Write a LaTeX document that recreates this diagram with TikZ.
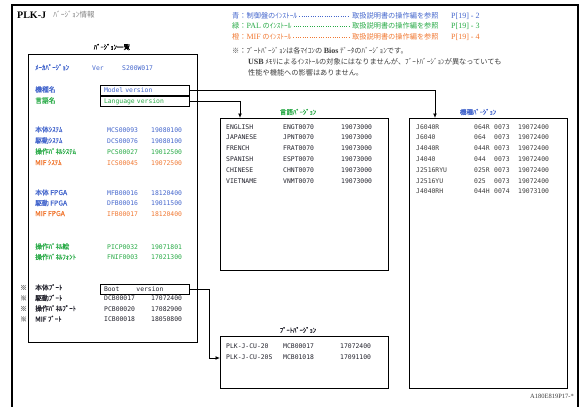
\documentclass[tikz,border=0pt]{standalone}
\usepackage{fontspec}
\setmainfont{Liberation Serif}
\newfontfamily\jp{Noto Sans CJK JP}
\newfontfamily\jpb{Noto Sans CJK JP}[FakeBold=0.6]
\newfontfamily\mono{DejaVu Sans Mono}
\usetikzlibrary{arrows.meta,calc}
\definecolor{cblue}{RGB}{68,102,204}
\definecolor{cgreen}{RGB}{40,170,70}
\definecolor{corange}{RGB}{240,120,50}
\definecolor{cgray}{RGB}{60,60,60}
\definecolor{cdark}{RGB}{35,35,45}
\begin{document}
\begin{tikzpicture}[x=1pt,y=-1pt,
  lbl/.style={font=\jpb\fontsize{6.8}{7}\selectfont, inner sep=0pt, anchor=west, text height=5pt, text depth=1pt},
  cod/.style={font=\mono\fontsize{6.4}{7}\selectfont, inner sep=0pt, anchor=west, text height=5pt, text depth=1pt},
  note/.style={font=\jp\fontsize{7.2}{8}\selectfont, inner sep=0pt, anchor=west, text height=6pt, text depth=1.5pt},
  srf/.style={font=\fontsize{8}{9}\selectfont, inner sep=0pt, anchor=west, text height=6pt, text depth=1.5pt},
  frame/.style={draw, line width=1.4pt, anchor=north west, inner sep=0pt},
  vbox/.style={draw, line width=1pt, anchor=north west, minimum width=89pt, minimum height=10pt,
    text width=82pt, inner xsep=3.5pt, inner ysep=0pt, align=left, font=\mono\fontsize{6.4}{7}\selectfont},
  conn/.style={line width=1pt, -{Latex[length=4.5pt,width=4pt]}},
  leader/.style={line width=0.7pt, dash pattern=on 0.7pt off 1.6pt, shorten <=2pt, shorten >=3pt},
  ttl/.style={font=\jpb\fontsize{6.6}{7}\selectfont, inner sep=0pt}
]
\useasboundingbox (0,0) rectangle (582,407);
% outer frame
\draw[line width=1.1pt] (12,407) -- (12,5) -- (578,5) -- (578,407);
% title
\node[anchor=west, inner sep=0pt, font=\bfseries\fontsize{10}{12}\selectfont] (title) at (17,15) {PLK-J};
\node[anchor=west, inner sep=0pt, font=\jp\fontsize{7.5}{8}\selectfont, text=gray] (title2) at ($(title.east)+(7,0)$) {ﾊﾞｰｼﾞｮﾝ情報};
% notes
\node[note,text=cblue] (n1) at (232,16) {青：制御盤のｲﾝｽﾄｰﾙ};
\node[note,text=cgreen] (n2) at (232,26.5) {緑：{\rmfamily\fontsize{8}{9}\selectfont PAL} のｲﾝｽﾄｰﾙ};
\node[note,text=corange] (n3) at (232,37) {橙：{\rmfamily\fontsize{8}{9}\selectfont MIF} のｲﾝｽﾄｰﾙ};
\node[note,text=cblue] (r1) at (352,16) {取扱説明書の操作編を参照};
\node[note,text=cgreen] (r2) at (352,26.5) {取扱説明書の操作編を参照};
\node[note,text=corange] (r3) at (352,37) {取扱説明書の操作編を参照};
\node[srf,text=cblue] (p1) at (451,16) {P[19] - 2};
\node[srf,text=cgreen] (p2) at (451,26.5) {P[19] - 3};
\node[srf,text=corange] (p3) at (451,37) {P[19] - 4};
\draw[leader,cblue] (n1.east) -- (r1.west);
\draw[leader,cgreen] (n2.east) -- (r2.west);
\draw[leader,corange] (n3.east) -- (r3.west);
\node[note,text=cgray] (s1) at (232,51) {※：ﾌﾞｰﾄﾊﾞｰｼﾞｮﾝは各ﾏｲｺﾝの {\rmfamily\bfseries\fontsize{8}{9}\selectfont Bios} ﾃﾞｰﾀのﾊﾞｰｼﾞｮﾝです。};
\node[note,text=cgray] (s2) at (248,62) {{\rmfamily\bfseries\fontsize{8}{9}\selectfont USB} ﾒﾓﾘによるｲﾝｽﾄｰﾙの対象にはなりませんが、ﾌﾞｰﾄﾊﾞｰｼﾞｮﾝが異なっていても};
\node[note,text=cgray] (s3) at (248,73) {性能や機能への影響はありません。};
% left list box
\node[ttl] (listttl) at (112,47) {ﾊﾞｰｼﾞｮﾝ一覧};
\node[frame, minimum width=169pt, minimum height=288pt] (list) at (28,54) {};
\node[lbl,text=cblue] (maker) at (35,68) {ﾒｰｶﾊﾞｰｼﾞｮﾝ};
\node[cod,text=cblue] (ver) at (92,68) {Ver};
\node[cod,text=cblue] (vernum) at (122,68) {S200W017};
\node[lbl,text=cblue] (kishu) at (35,90) {機種名};
\node[lbl,text=cgreen] (gengo) at (35,101) {言語名};
\node[vbox,text=cblue] (mv) at (100,85) {Model version};
\node[vbox,text=cgreen] (lv) at (100,96) {Language version};
\foreach \y/\l/\c/\d/\col [count=\i] in {
  130/本体ｼｽﾃﾑ/MCS00093/19080100/cblue,
  141/駆動ｼｽﾃﾑ/DCS00076/19080100/cblue,
  152/操作ﾊﾟﾈﾙｼｽﾃﾑ/PCS00027/19012500/cgreen,
  163/MIF ｼｽﾃﾑ/ICS00045/19072500/corange,
  193/本体 FPGA/MFB00016/18120400/cblue,
  203.5/駆動 FPGA/DFB00016/19011500/cblue,
  214/MIF FPGA/IFB00017/18120400/corange,
  247/操作ﾊﾟﾈﾙ絵/PICP0032/19071801/cgreen,
  257.5/操作ﾊﾟﾈﾙﾌｫﾝﾄ/FNIF0003/17021300/cgreen}{
  \node[lbl,text=\col] (ml\i) at (35,\y) {\l};
  \node[cod,text=\col] (mc\i) at (107,\y) {\c};
  \node[cod,text=\col] (md\i) at (151,\y) {\d};
}
% boot rows
\node[lbl,text=gray] (k1) at (20,288) {※};
\node[lbl,text=cdark] (b1) at (35,288) {本体ﾌﾞｰﾄ};
\node[vbox,text=cdark] (bv) at (100,284) {Boot\hspace{17pt}version};
\foreach \y/\l/\c/\d [count=\i from 2] in {
  298.5/駆動ﾌﾞｰﾄ/DCB00017/17072400,
  309/操作ﾊﾟﾈﾙﾌﾞｰﾄ/PCB00020/17082900,
  319.5/MIF ﾌﾞｰﾄ/ICB00018/18050800}{
  \node[lbl,text=gray] (k\i) at (20,\y) {※};
  \node[lbl,text=cdark] (b\i) at (35,\y) {\l};
  \node[cod,text=cdark] (bc\i) at (104,\y) {\c};
  \node[cod,text=cdark] (bd\i) at (151,\y) {\d};
}
% language box
\node[ttl,text=cgreen] (langttl) at (298,112) {言語ﾊﾞｰｼﾞｮﾝ};
\node[frame, minimum width=168pt, minimum height=152pt] (lang) at (220,118) {};
\foreach \n/\c [count=\i from 0] in {ENGLISH/ENGT0070, JAPANESE/JPNT0070, FRENCH/FRAT0070,
  SPANISH/ESPT0070, CHINESE/CHNT0070, VIETNAME/VNMT0070}{
  \node[cod,text=cdark] (ln\i) at (226,127+10.8*\i) {\n};
  \node[cod,text=cdark] (lc\i) at (283,127+10.8*\i) {\c};
  \node[cod,text=cdark] (ld\i) at (341,127+10.8*\i) {19073000};
}
% machine box
\node[ttl,text=cblue] (machttl) at (478,112) {機種ﾊﾞｰｼﾞｮﾝ};
\node[frame, minimum width=158pt, minimum height=270pt] (mach) at (409,118) {};
\foreach \n/\a/\b/\d [count=\i from 0] in {J6040R/064R/0073/19072400, J6040/064/0073/19072400,
  J4040R/044R/0073/19072400, J4040/044/0073/19072400, J2516RYU/025R/0073/19072400,
  J2516YU/025/0073/19072400, J4040RH/044H/0074/19073100}{
  \node[cod,text=cgray] (mn\i) at (416,127+10.8*\i) {\n};
  \node[cod,text=cgray] (ma\i) at (474,127+10.8*\i) {\a};
  \node[cod,text=cgray] (mb\i) at (494,127+10.8*\i) {\b};
  \node[cod,text=cgray] (md\i) at (518,127+10.8*\i) {\d};
}
% boot box
\node[ttl,text=cdark] (bootttl) at (298,330) {ﾌﾞｰﾄﾊﾞｰｼﾞｮﾝ};
\node[frame, minimum width=168pt, minimum height=52pt] (boot) at (220,336) {};
\node[cod,text=cdark] (bn1) at (226,346) {PLK-J-CU-20};
\node[cod,text=cdark] (bm1) at (283,346) {MCB00017};
\node[cod,text=cdark] (bdd1) at (340,346) {17072400};
\node[cod,text=cdark] (bn2) at (226,357) {PLK-J-CU-20S};
\node[cod,text=cdark] (bm2) at (283,357) {MCB01018};
\node[cod,text=cdark] (bdd2) at (340,357) {17091100};
% code
\node[anchor=east, inner sep=0pt, font=\fontsize{6.5}{7}\selectfont, text=cgray] (code) at (574,396) {A180E819P17-*};
% connectors
\draw[conn] (mv.east) -| ($(mach.north west)+(26,0)$);
\draw[conn] (lv.east) -| ($(lang.north west)+(20,0)$);
\draw[conn] (bv.east) -- ++(19,0) |- ($(boot.north west)+(0,22)$);
\end{tikzpicture}
\end{document}
